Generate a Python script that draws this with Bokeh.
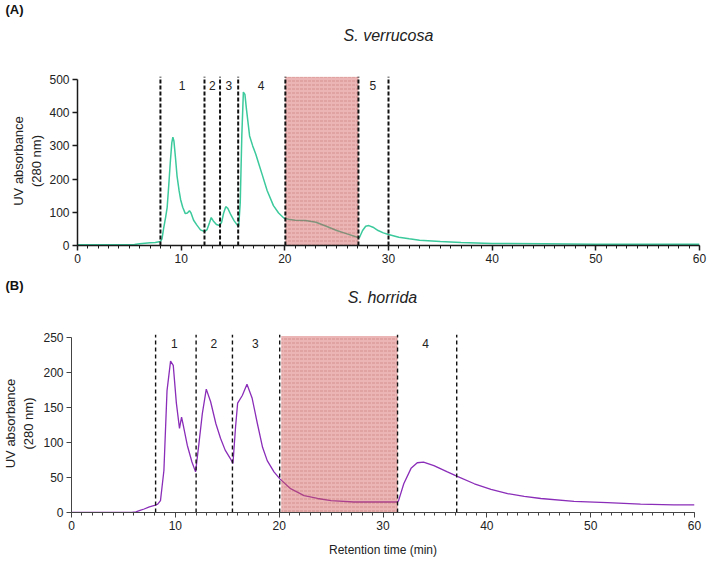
from bokeh.plotting import figure
from bokeh.models import Range1d, SingleIntervalTicker, ColumnDataSource
from bokeh.embed import file_html
from bokeh.resources import INLINE

# ---- S. verrucosa chromatogram (panel A) ----
a_time = [0, 2, 4, 5.5, 6, 6.5, 7, 7.5, 8.0, 8.15, 8.3, 8.5, 8.65, 8.8, 8.95, 9.1, 9.2, 9.3,
          9.45, 9.6, 9.8, 9.95, 10.15, 10.4, 10.6, 10.8, 10.95, 11.2, 11.5, 11.86, 12.25,
          12.5, 12.75, 12.9, 13.1, 13.4, 13.7, 13.9, 14.1, 14.3, 14.5, 14.8, 15.1, 15.4,
          15.55, 15.7, 15.85, 16.0, 16.15, 16.3, 16.6, 16.9, 17.2, 17.5, 17.8, 18.3, 18.9,
          19.4, 19.9, 20.5, 21, 22, 23, 24, 25, 26, 27, 27.2, 27.5, 27.8, 28.1, 28.5, 29,
          29.5, 30, 31, 32, 33, 35, 37, 40, 45, 50, 55, 60]
a_uv = [2, 2, 2, 3, 5, 7, 8, 9, 12, 20, 50, 85, 115, 180, 250, 310, 326, 315,
        265, 210, 165, 138, 115, 96, 98, 105, 98, 76, 62, 47, 42,
        48, 70, 84, 74, 63, 60, 70, 98, 117, 112, 92, 75, 62,
        58, 130, 330, 462, 455, 410, 330, 300, 275, 245, 215, 165, 120,
        98, 83, 78, 76, 75, 70, 58, 45, 35, 25, 24, 45, 58, 60, 55, 45,
        38, 33, 25, 20, 16, 12, 9, 6, 5, 4, 4, 4]
a_cuts = [8.0, 12.25, 13.75, 15.5, 20.05, 27.1, 30.0]
a_pool = (20.05, 27.1)
a_frac_x = [10.1, 13.0, 14.6, 17.7, 28.5]
a_frac_lbl = ["1", "2", "3", "4", "5"]

# ---- S. horrida chromatogram (panel B) ----
b_time = [0, 2, 4, 5, 5.8, 6.2, 6.6, 7.0, 7.5, 8.0, 8.3, 8.57, 8.9, 9.2, 9.54, 9.8, 10.1,
          10.4, 10.6, 10.8, 11.15, 11.6, 11.95, 12.27, 12.6, 12.98, 13.4, 13.9, 14.35,
          14.8, 15.3, 15.55, 15.8, 16.0, 16.45, 16.9, 17.4, 17.9, 18.4, 18.85, 19.5,
          20.07, 21.1, 22.4, 23.7, 25, 27.2, 29, 31.4, 31.5, 32.0, 32.7, 33.3, 33.9,
          34.9, 36.2, 37.1, 38.8, 40.4, 42, 43.6, 45.2, 48.4, 51.6, 54.8, 58, 60]
b_uv = [0, 0, 0, 0, 0, 1, 3, 5, 8, 10, 12, 17, 60, 174, 216, 210, 156,
        120, 136, 122, 96, 72, 58, 98, 141, 176, 158, 127, 106,
        89, 77, 70, 122, 156, 167, 183, 163, 127, 93, 74, 58,
        48, 34, 24, 20, 17, 15, 15, 15, 17, 41, 63, 71, 72,
        67, 58, 52, 41, 33, 27, 23, 20, 16, 14, 12, 11, 11]
b_cuts = [8.1, 12.0, 15.5, 20.05, 31.4, 37.1]
b_pool = (20.2, 31.4)
b_frac_x = [9.9, 13.7, 17.7, 34.1]
b_frac_lbl = ["1", "2", "3", "4"]

FONT = "Liberation Sans"


def header(height, tag, tag_y, species, species_x, species_y):
    # strip above each chart carrying the panel tag and the species name
    h = figure(width=709, height=height, output_backend="svg", toolbar_location=None,
               x_range=Range1d(0, 709), y_range=Range1d(height, 0),
               x_axis_type=None, y_axis_type=None,
               min_border_left=0, min_border_right=0, min_border_top=0,
               min_border_bottom=0)
    h.outline_line_color = None
    h.grid.grid_line_color = None
    h.text(x=[5], y=[tag_y], text=[tag], text_font={"value": FONT},
           text_font_size="13px", text_font_style="bold", text_color="#111111",
           text_align="left", text_baseline="middle")
    h.text(x=[species_x], y=[species_y], text=[species], text_font={"value": FONT},
           text_font_size="16px", text_font_style="italic", text_color="#222222",
           text_align="center", text_baseline="middle")
    return h


def panel(height, border_left, border_right, border_bottom, y_top, y_axis_end, y_step,
          axis_color, axis_width, label_gap):
    p = figure(width=709, height=height, output_backend="svg", toolbar_location=None,
               x_range=Range1d(0, 60), y_range=Range1d(0, y_top),
               min_border_left=border_left, min_border_right=border_right,
               min_border_top=6, min_border_bottom=border_bottom)
    p.outline_line_color = None
    p.grid.grid_line_color = None
    p.xaxis.ticker = SingleIntervalTicker(interval=10, num_minor_ticks=10)
    p.yaxis.ticker = SingleIntervalTicker(interval=y_step, num_minor_ticks=0)
    p.xaxis.bounds = (0, 60)
    p.yaxis.bounds = (0, y_axis_end)
    for ax in (p.xaxis, p.yaxis):
        ax.axis_line_color = axis_color
        ax.axis_line_width = axis_width
        ax.major_tick_line_color = axis_color
        ax.major_tick_line_width = axis_width
        ax.minor_tick_line_color = axis_color
        ax.major_tick_in = 0
        ax.major_tick_out = 5
        ax.minor_tick_in = 0
        ax.minor_tick_out = 3
        ax.major_label_text_font = FONT
        ax.major_label_text_font_size = "12px"
        ax.major_label_text_color = "#222222"
        ax.major_label_standoff = 3
        ax.axis_label_text_font = FONT
        ax.axis_label_text_font_style = "normal"
        ax.axis_label_text_color = "#222222"
    p.yaxis.minor_tick_line_color = None
    p.yaxis.axis_label = "UV absorbance\n(280 nm)"
    p.yaxis.axis_label_text_font_size = "13px"
    p.yaxis.axis_label_standoff = label_gap
    return p


def decorate(p, time, uv, color, width, cuts, pool, pool_top, frac_x, frac_lbl, frac_y,
             dash, dash_width, cut_top):
    p.line(time, uv, line_color=color, line_width=width)
    p.quad(left=[pool[0]], right=[pool[1]], bottom=[0], top=[pool_top],
           fill_color="#d25a5a", fill_alpha=0.45, line_color=None,
           hatch_pattern="horizontal_dash", hatch_color="#b04848", hatch_alpha=0.35,
           hatch_scale=4, hatch_weight=1)
    p.segment(x0=cuts, y0=[0] * len(cuts), x1=cuts, y1=[cut_top] * len(cuts),
              line_color="#111111", line_width=dash_width, line_dash=dash)
    src = ColumnDataSource(dict(x=frac_x, y=[frac_y] * len(frac_x), t=frac_lbl))
    p.text(x="x", y="y", text="t", source=src, text_align="center",
           text_baseline="middle", text_font_size="12px", text_color="#222222",
           text_font={"value": FONT})


# Panel A
ha = header(70, "(A)", 9, "S. verrucosa", 388, 35)
pa = panel(200, 77, 10, 25, 509, 500, 100, "#1a1a1a", 1.5, 2)
decorate(pa, a_time, a_uv, "#3cc99c", 1.5, a_cuts, a_pool, 508, a_frac_x, a_frac_lbl,
         483, "4 2", 2, 509)

# Panel B
hb = header(58, "(B)", 15, "S. horrida", 382, 27)
pb = panel(235, 71, 15, 51, 254, 250, 50, "#444444", 1, 4)
pb.xaxis.axis_label = "Retention time (min)"
pb.xaxis.axis_label_text_font_size = "12px"
pb.xaxis.axis_label_standoff = 10
decorate(pb, b_time, b_uv, "#8a2db8", 1.3, b_cuts, b_pool, 252, b_frac_x, b_frac_lbl,
         241, "4 3", 1.4, 254)

open("out.html", "w").write(file_html([ha, pa, hb, pb], INLINE))
